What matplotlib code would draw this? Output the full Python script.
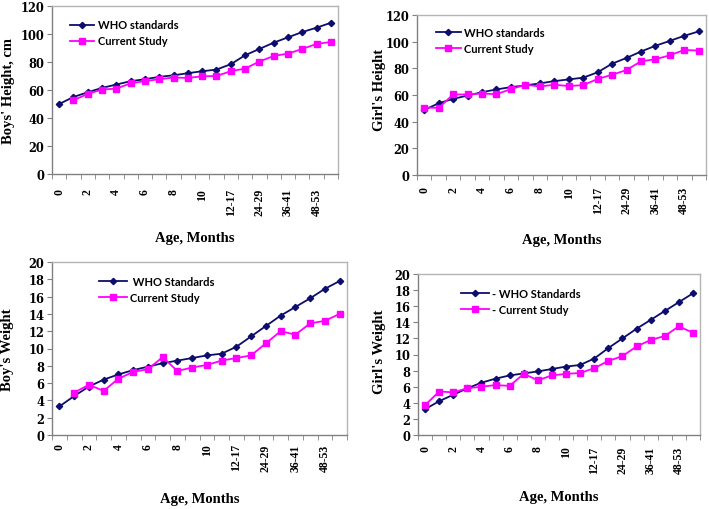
import matplotlib
matplotlib.use('Agg')
import matplotlib.pyplot as plt
import numpy as np

# age groups: 0..11 months then 6-month bands
age_labels = [str(i) for i in range(12)] + ['12-17', '18-23', '24-29', '30-35',
                                             '36-41', '42-47', '48-53', '54-59']

boys_height_who = [50, 55, 58.4, 61.5, 63.9, 66.3, 67.7, 69.4, 70.5, 72, 73.4, 74.6,
                   78.4, 84.8, 89.3, 93.8, 97.6, 101.4, 104.5, 108]
boys_height_cur = [None, 52.7, 57.2, 60.3, 61, 64.8, 66.3, 67.7, 68.9, 68.6, 69.8, 70,
                   73.4, 75.3, 80.3, 84.3, 86, 89.3, 92.9, 94.3]

girls_height_who = [48.8, 53.8, 57.1, 59.6, 62.1, 64.2, 65.9, 67.2, 68.7, 70.4, 71.7, 73,
                    77, 83.5, 87.8, 92.6, 96.9, 100.6, 104.4, 107.7]
girls_height_cur = [50.6, 50.3, 60.4, 60.4, 61.1, 60.6, 64.4, 67.7, 66.4, 67.7, 66.7, 67.4,
                    72, 75.2, 78.7, 85.3, 86.8, 89.8, 93.8, 93.3]

boys_weight_who = [3.3, 4.5, 5.6, 6.4, 7.0, 7.5, 7.9, 8.3, 8.6, 8.9, 9.2, 9.4,
                   10.2, 11.4, 12.6, 13.8, 14.8, 15.8, 16.9, 17.8]
boys_weight_cur = [None, 4.9, 5.8, 5.1, 6.5, 7.3, 7.6, 9.0, 7.4, 7.8, 8.1, 8.6,
                   8.9, 9.2, 10.6, 12.0, 11.6, 12.9, 13.2, 14.0]

girls_weight_who = [3.2, 4.2, 5.0, 5.8, 6.5, 7.0, 7.4, 7.65, 7.9, 8.2, 8.5, 8.7,
                    9.5, 10.8, 12.0, 13.2, 14.3, 15.4, 16.5, 17.6]
girls_weight_cur = [3.7, 5.4, 5.3, 5.8, 6.0, 6.2, 6.1, 7.6, 6.8, 7.4, 7.6, 7.7,
                    8.3, 9.2, 9.8, 11.0, 11.8, 12.3, 13.5, 12.7]

W, H = 709, 510
SERIF = 'Liberation Serif'
SANS = 'Lato'


def px_axes(fig, left, top, right, bottom):
    # pixel box -> figure fraction
    return fig.add_axes([left / W, 1 - bottom / H, (right - left) / W, (bottom - top) / H])


def draw_panel(ax, who, cur, ylim, ystep, ylabel, leg_labels, leg_anchor, ylab_pos,
               xpad=9, handle=2.2):
    x = np.arange(len(age_labels))
    cur_arr = np.array([np.nan if v is None else v for v in cur], dtype=float)
    ax.plot(x, who, color='#0d0d6e', lw=1.3, marker='D', ms=3.2, label=leg_labels[0])
    ax.plot(x, cur_arr, color='#ff00ff', lw=1.3, marker='s', ms=4.5, label=leg_labels[1])

    ax.set_xlim(-0.5, len(age_labels) - 0.5)
    ax.set_ylim(ylim)
    ax.set_yticks(np.arange(ylim[0], ylim[1] + 0.01, ystep))
    ax.set_xticks(x[::2])
    ax.set_xticklabels(age_labels[::2], rotation=90)
    ax.set_xticks(np.arange(-0.5, len(age_labels)), minor=True)
    ax.tick_params(axis='x', which='major', length=0, pad=xpad)
    ax.tick_params(axis='x', which='minor', length=3.5, color='#808080', direction='out')
    ax.tick_params(axis='y', length=3.5, color='#808080', pad=2)
    for lab in ax.get_xticklabels():
        lab.set_fontfamily(SERIF)
        lab.set_fontweight('bold')
        lab.set_fontsize(8.5)
    for lab in ax.get_yticklabels():
        lab.set_fontfamily('DejaVu Serif')
        lab.set_fontweight('bold')
        lab.set_fontsize(8.3)

    for s in ['top', 'right']:
        ax.spines[s].set_color('#b4b4b4')
    for s in ['left', 'bottom']:
        ax.spines[s].set_color('#808080')
    for s in ax.spines.values():
        s.set_linewidth(1.0)

    ax.set_ylabel(ylabel, fontfamily=SERIF, fontweight='bold', fontsize=10.5)
    ax.yaxis.set_label_coords(ylab_pos[0], ylab_pos[1])
    ax.set_xlabel('Age, Months', fontfamily=SERIF, fontweight='bold', fontsize=10.5)

    ax.legend(loc='upper left', bbox_to_anchor=leg_anchor, frameon=False,
              borderpad=0, borderaxespad=0, handlelength=handle, handletextpad=0.3,
              labelspacing=0.45, prop={'family': SANS, 'weight': 'bold', 'size': 8})


fig = plt.figure(figsize=(W / 100, H / 100), dpi=100)

ax1 = px_axes(fig, 52, 7, 338, 175)
draw_panel(ax1, boys_height_who, boys_height_cur, (0, 120), 20, "Boys' Height, cm",
           ['WHO standards', 'Current Study'], (0.063, 0.92), (-0.13, 0.5), xpad=10)
ax1.xaxis.set_label_coords(0.5, -0.34)

ax2 = px_axes(fig, 417, 16, 706, 176)
draw_panel(ax2, girls_height_who, girls_height_cur, (0, 120), 20, "Girl's Height",
           ['WHO standards', 'Current Study'], (0.066, 0.925), (-0.107, 0.54), xpad=8)
ax2.xaxis.set_label_coords(0.5, -0.36)

ax3 = px_axes(fig, 52, 263, 347, 436)
draw_panel(ax3, boys_weight_who, boys_weight_cur, (0, 20), 2, "Boy's Weight",
           [' WHO Standards', 'Current Study'], (0.16, 0.92), (-0.129, 0.5),
           xpad=6, handle=2.5)
ax3.xaxis.set_label_coords(0.5, -0.33)

ax4 = px_axes(fig, 418, 275, 700, 436)
draw_panel(ax4, girls_weight_who, girls_weight_cur, (0, 20), 2, "Girl's Weight",
           ['- WHO Standards', '- Current Study'], (0.152, 0.915), (-0.113, 0.52),
           xpad=7.5, handle=2.5)
ax4.xaxis.set_label_coords(0.5, -0.34)

fig.savefig('out.png', dpi=100)
